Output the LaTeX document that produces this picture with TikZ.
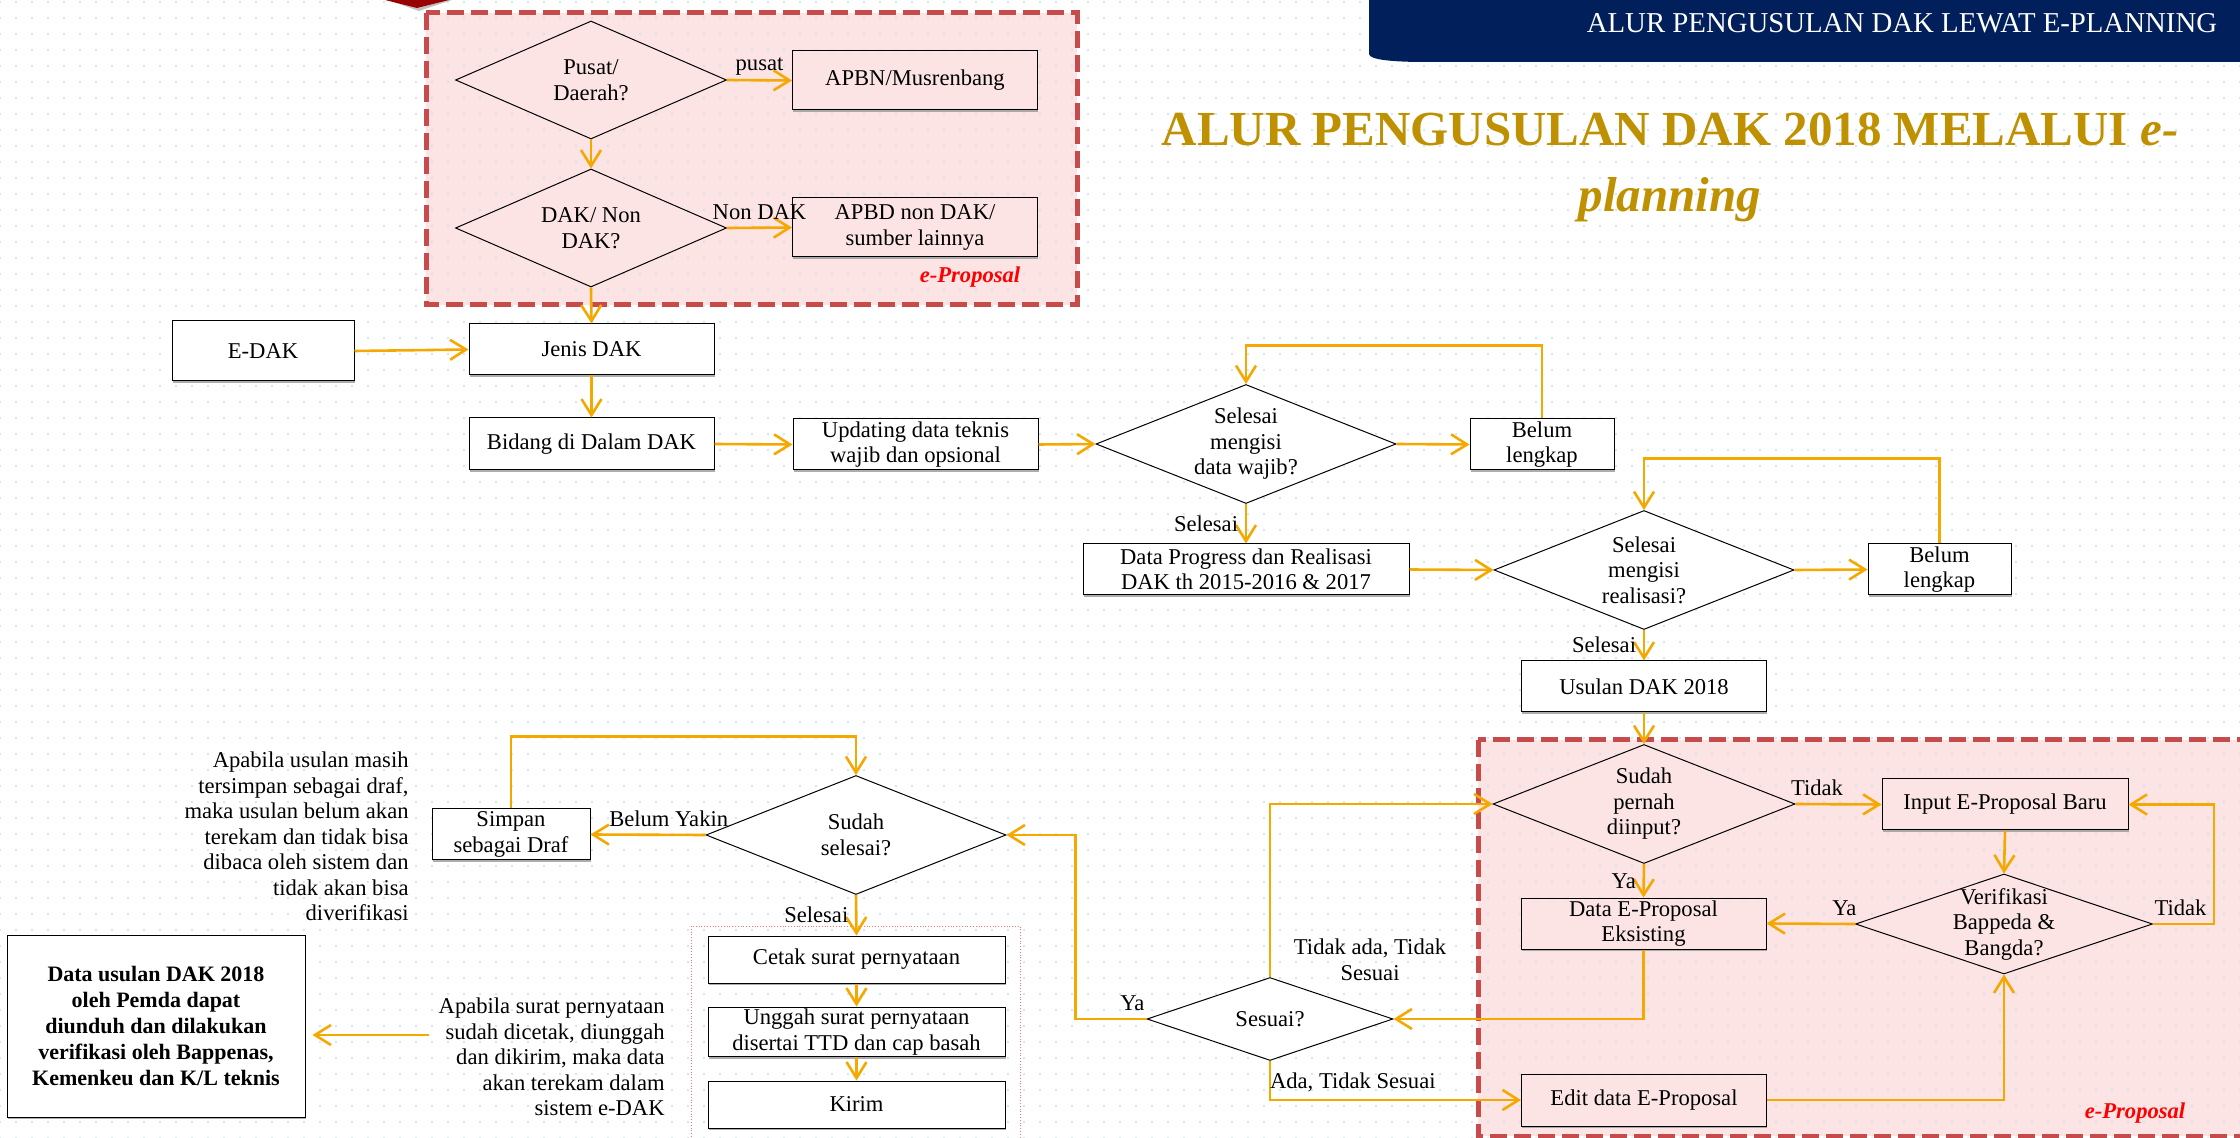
\documentclass[tikz,border=0pt]{standalone}
\usepackage{fontspec}
\setmainfont{Liberation Serif}
\usetikzlibrary{shapes.geometric, arrows.meta, positioning, patterns.meta, shadows}

\definecolor{flowgold}{RGB}{245,168,0}
\definecolor{regionred}{RGB}{200,75,75}
\definecolor{regionpink}{RGB}{252,228,229}
\definecolor{dotblue}{RGB}{196,224,244}
\definecolor{bannernavy}{RGB}{0,31,91}
\definecolor{titlegold}{RGB}{191,144,0}

\begin{document}
\begin{tikzpicture}[
    x=0.5pt, y=-0.5pt,
    >={Straight Barb[length=8pt, width=10pt]},
    font=\fontsize{11.3}{12.75}\selectfont,
    box/.style         ={draw, line width=0.5pt, fill=white, align=center, inner sep=1pt,
                         minimum width=122.5pt, minimum height=25.5pt,
                         drop shadow={shadow xshift=0.4pt, shadow yshift=-0.9pt,
                                      fill=black!40, opacity=0.8}},
    pinkbox/.style     ={box, fill=regionpink},
    decision/.style    ={diamond, draw, line width=0.5pt, fill=white, aspect=2.5,
                         inner sep=0pt, align=center, minimum width=150pt,
                         minimum height=59.5pt},
    pinkdecision/.style={decision, fill=regionpink},
    flow/.style        ={->, line width=1.3pt, draw=flowgold},
    region/.style      ={draw=regionred, line width=2.5pt, dash pattern=on 8.5pt off 3.5pt},
    tagtext/.style     ={font=\bfseries\itshape\fontsize{11.3}{13}\selectfont, text=red},
    note/.style        ={align=right, inner sep=0pt}
]

% Background: pink e-Proposal regions and dotted paper
\useasboundingbox (0,0) rectangle (2240,1138);
\fill[white] (0,0) rectangle (2240,1138);
\fill[regionpink] (426,13) rectangle (1077,305);
\fill[regionpink] (1478,740) rectangle (2262,1136);
\fill[pattern={Dots[distance=8pt, radius=0.55pt]}, pattern color=dotblue]
    (0,0) rectangle (2240,1138);
\draw[region] (426,13) rectangle (1077,305);
\draw[region] (1478,740) rectangle (2262,1136);

% corner ornament cut by the top edge
\fill[black!25] (388,0) -- (419,11) -- (452,0) -- cycle;
\fill[red!60!black] (385,0) -- (417,8) -- (449,0) -- cycle;

% Banner and title
\fill[bannernavy] (1369,-2) -- (1369,54) .. controls (1369,60) and (1395,62) .. (1425,62)
    -- (2242,62) -- (2242,-2) -- cycle;
\node[text=white, font=\fontsize{14.4}{16}\selectfont] (bannertext) at (1902,23)
    {ALUR PENGUSULAN DAK LEWAT E-PLANNING};
\node[text=titlegold, font=\bfseries\fontsize{24.5}{33}\selectfont, align=center,
      inner sep=0pt] (title) at (1670,167)
    {ALUR PENGUSULAN DAK 2018 MELALUI \textit{e-}\\\textit{planning}};

% Top region: e-Proposal
\node[pinkdecision, minimum width=135.5pt, minimum height=59pt] (pusat) at (591,80)
    {Pusat/\\Daerah?};
\node[pinkdecision, minimum width=135.5pt, minimum height=59pt] (jenisdana) at (591,228)
    {DAK/ Non\\DAK?};
\node[pinkbox, minimum height=29.5pt] (apbn) at (915,80.5) {APBN/Musrenbang};
\node[pinkbox, minimum height=29.5pt] (apbd) at (915,227.5) {APBD non DAK/\\sumber lainnya};
\node[tagtext] (tagtop) at (970,277) {e-Proposal};

% Middle rows
\node[box, minimum width=91pt, minimum height=30pt] (edak) at (263,351) {E-DAK};
\node[box] (jenis) at (591.5,349.5) {Jenis DAK};
\node[box, minimum height=26pt] (bidang) at (591.5,444) {Bidang di Dalam DAK};
\node[box] (updating) at (915.5,444.5) {Updating data teknis\\wajib dan opsional};
\node[decision] (wajib) at (1246,444) {Selesai\\mengisi\\data wajib?};
\node[box, minimum width=72pt] (belum1) at (1542,444.5) {Belum\\lengkap};
\node[box, minimum width=163pt] (progress) at (1246,569.5)
    {Data Progress dan Realisasi\\DAK th 2015-2016 \& 2017};
\node[decision] (realisasi) at (1644,570) {Selesai\\mengisi\\realisasi?};
\node[box, minimum width=71.5pt] (belum2) at (1939.5,569.5) {Belum\\lengkap};
\node[box] (usulan) at (1644,686.5) {Usulan DAK 2018};

% Bottom right region: e-Proposal
\node[pinkdecision, minimum width=151pt] (pernah) at (1644,804) {Sudah\\pernah\\diinput?};
\node[pinkbox, minimum width=123pt] (inputbaru) at (2005,804.5) {Input E-Proposal Baru};
\node[pinkdecision, aspect=3, inner sep=-1.5pt, minimum width=148.5pt,
      minimum height=50pt] (verif) at (2004,924) {Verifikasi\\Bappeda \&\\Bangda?};
\node[pinkbox] (eksisting) at (1643.5,923.5) {Data E-Proposal\\Eksisting};
\node[decision, minimum width=123pt, minimum height=41.5pt] (sesuai) at (1270,1019) {Sesuai?};
\node[pinkbox, minimum height=26pt] (edit) at (1644,1100) {Edit data E-Proposal};
\node[tagtext] (tagbottom) at (2135,1113) {e-Proposal};

% Bottom left: draft / submit
\node[decision] (selesai) at (856,835) {Sudah\\selesai?};
\node[box, minimum width=79pt] (simpan) at (511,834.5) {Simpan\\sebagai Draf};
\node[note, anchor=east] (notedraf) at (409,836.5)
    {Apabila usulan masih\\tersimpan sebagai draf,\\maka usulan belum akan\\terekam dan tidak bisa\\dibaca oleh sistem dan\\tidak akan bisa\\diverifikasi};
\draw[red!55, line width=0.4pt, densely dotted] (691,926) rectangle (1020,1150);
\node[box, minimum width=148.5pt, minimum height=23.5pt] (cetak) at (856.5,959.5)
    {Cetak surat pernyataan};
\node[box, minimum width=148.5pt, minimum height=24pt] (unggah) at (856.5,1032)
    {Unggah surat pernyataan\\disertai TTD dan cap basah};
\node[box, minimum width=148.5pt, minimum height=23.5pt] (kirim) at (856.5,1104.5) {Kirim};
\node[note, anchor=east] (notekirim) at (665,1057)
    {Apabila surat pernyataan\\sudah dicetak, diunggah\\dan dikirim, maka data\\akan terekam dalam\\sistem e-DAK};
\node[box, minimum width=149pt, minimum height=91pt,
      font=\bfseries\fontsize{11}{12.9}\selectfont] (hasil) at (156,1026)
    {Data usulan DAK 2018\\oleh Pemda dapat\\diunduh dan dilakukan\\verifikasi oleh Bappenas,\\Kemenkeu dan K/L teknis};

% --- Arrows ---
\draw[flow] (pusat.east) -- (apbn.west) node[midway, above, inner sep=2pt] {pusat};
\draw[flow] (pusat.south) -- (jenisdana.north);
\draw[flow] (jenisdana.east) -- (apbd.west) node[midway, above] {Non DAK};
\draw[flow] (jenisdana.south) -- (jenis.north);
\draw[flow] (edak.east) -- (jenis.west);
\draw[flow] (jenis.south) -- (bidang.north);
\draw[flow] (bidang.east) -- (updating.west);
\draw[flow] (updating.east) -- (wajib.west);
\draw[flow] (wajib.east) -- (belum1.west);
\draw[flow] (belum1.north) -- ++(0,-73) -| (wajib.north);
\draw[flow] (wajib.south) -- (progress.north) node[midway, left] {Selesai};
\draw[flow] (progress.east) -- (realisasi.west);
\draw[flow] (realisasi.east) -- (belum2.west);
\draw[flow] (belum2.north) -- ++(0,-85) -| (realisasi.north);
\draw[flow] (realisasi.south) -- (usulan.north) node[midway, left] {Selesai};
\draw[flow] (usulan.south) -- (pernah.north);

% e-Proposal check loop
\draw[flow] (pernah.east) -- (inputbaru.west) node[pos=0.25, above] {Tidak};
\draw[flow] (pernah.south) -- (eksisting.north) node[midway, left] {Ya};
\draw[flow] (inputbaru.south) -- (verif.north);
\draw[flow] (verif.west) -- (eksisting.east) node[pos=0.12, above] {Ya};
\draw[flow] (verif.east) -- ++(61,0) node[pos=0.45, above] {Tidak} |- (inputbaru.east);
\draw[flow] (eksisting.south) |- (sesuai.east);
\draw[flow] (sesuai.north) |- (pernah.west)
    node[pos=0.05, right=8pt, align=center] {Tidak ada, Tidak\\Sesuai};
\draw[flow] (sesuai.south) |- (edit.west) node[pos=0.665, above] {Ada, Tidak Sesuai};
\draw[flow] (edit.east) -| (verif.south);

% Submit branch
\draw[flow] (sesuai.west) -- ++(-71,0) node[pos=0.2, above] {Ya} |- (selesai.east);
\draw[flow] (selesai.west) -- (simpan.east) node[pos=0.32, above] {Belum Yakin};
\draw[flow] (simpan.north) -- ++(0,-72) -| (selesai.north);
\draw[flow] (selesai.south) -- (cetak.north) node[midway, left] {Selesai};
\draw[flow] (cetak.south) -- (unggah.north);
\draw[flow] (unggah.south) -- (kirim.north);
\draw[flow] ([xshift=-4.5pt, yshift=11pt]notekirim.west)
    -- ([xshift=3.5pt, yshift=11pt]notekirim.west -| hasil.east);

\end{tikzpicture}
\end{document}
